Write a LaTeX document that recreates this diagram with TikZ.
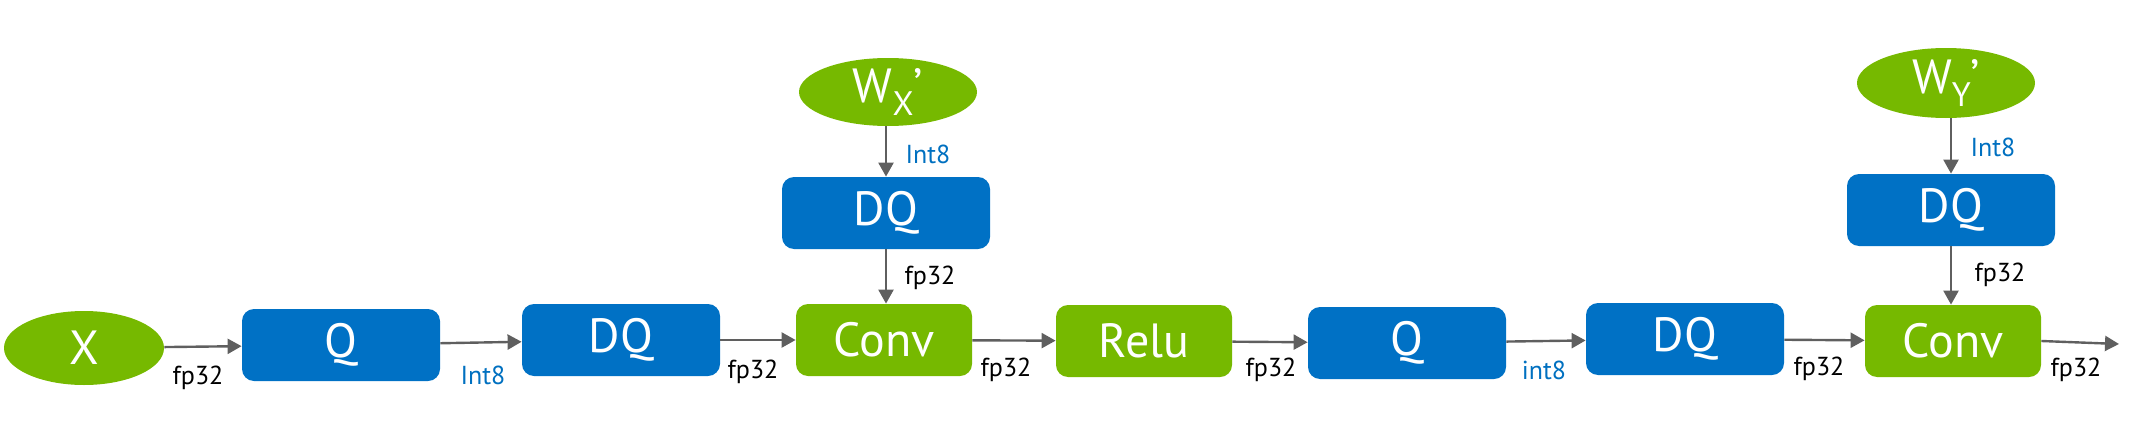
\documentclass[tikz,border=0pt]{standalone}
\usepackage{fontspec}
\setmainfont{PT Sans}
\usetikzlibrary{arrows.meta,shapes.geometric}
\definecolor{nvgreen}{HTML}{76B900}
\definecolor{nvblue}{HTML}{0071C5}
\definecolor{lblblue}{HTML}{0070C0}
\definecolor{arrgray}{HTML}{5F5F5F}
\tikzset{
  opbox/.style={rectangle, rounded corners=6pt, draw=none, text=white, font=\fontsize{24}{24}\selectfont, inner sep=0pt},
  bluebox/.style={opbox, fill=nvblue, minimum width=99pt, minimum height=36pt},
  greenbox/.style={opbox, fill=nvgreen, minimum width=88pt, minimum height=36pt},
  topbox/.style={opbox, fill=nvblue, minimum width=104pt, minimum height=36pt},
  inell/.style={ellipse, fill=nvgreen, draw=none, text=white, font=\fontsize{24}{24}\selectfont, inner sep=0pt},
  conn/.style={draw=arrgray, line width=1.2pt, -{Triangle[length=7pt,width=7.5pt]}},
  lbl/.style={font=\fontsize{13}{13}\selectfont, text=black, inner sep=0pt},
  lblb/.style={lbl, text=lblblue},
}
\begin{document}
\begin{tikzpicture}[x=0.5pt,y=-0.5pt]
\useasboundingbox (0,0) rectangle (2142,428);
% main chain
\node[inell, minimum width=80pt, minimum height=37pt] (X) at (84,348) {X};
\node[bluebox] (Q1) at (341,345) {Q};
\node[bluebox] (DQ1) at (621,340) {DQ};
\node[greenbox] (C1) at (884,340) {Conv};
\node[greenbox] (R) at (1144,341) {Relu};
\node[bluebox] (Q2) at (1407,343) {Q};
\node[bluebox] (DQ2) at (1685,339) {DQ};
\node[greenbox] (C2) at (1953,341) {Conv};
\coordinate (out) at (2119,344);
% weight branches
\node[inell, minimum width=89pt, minimum height=34pt] (WX) at (888,92) {W\raisebox{-0.28em}{\fontsize{17}{17}\selectfont X}’};
\node[topbox] (DQX) at (886,213) {DQ};
\node[inell, minimum width=89pt, minimum height=35pt] (WY) at (1946,83) {W\raisebox{-0.28em}{\fontsize{17}{17}\selectfont Y}’};
\node[topbox] (DQY) at (1951,210) {DQ};
% connectors
\draw[conn] (X) -- (Q1);
\draw[conn] (Q1) -- (DQ1);
\draw[conn] (DQ1) -- (C1);
\draw[conn] (C1) -- (R);
\draw[conn] (R) -- (Q2);
\draw[conn] (Q2) -- (DQ2);
\draw[conn] (DQ2) -- (C2);
\draw[conn] (C2.east) -- (out);
\draw[conn] (WX.south -| DQX.north) -- (DQX.north);
\draw[conn] (DQX.south) -- (DQX.south |- C1.north);
\draw[conn] (WY.south -| DQY.north) -- (DQY.north);
\draw[conn] (DQY.south) -- (DQY.south |- C2.north);
% labels
\node[lbl] (l1) at (198,378) {fp32};
\node[lblb] (l2) at (483,375) {Int8};
\node[lbl] (l3) at (753,372) {fp32};
\node[lbl] (l4) at (1006,370) {fp32};
\node[lbl] (l5) at (1271,370) {fp32};
\node[lblb] (l6) at (1544,370) {int8};
\node[lbl] (l7) at (1819,369) {fp32};
\node[lbl] (l8) at (2076,370) {fp32};
\node[lblb] (l9) at (928,154) {Int8};
\node[lbl] (l10) at (930,278) {fp32};
\node[lblb] (l11) at (1993,147) {Int8};
\node[lbl] (l12) at (2000,275) {fp32};
\end{tikzpicture}
\end{document}
